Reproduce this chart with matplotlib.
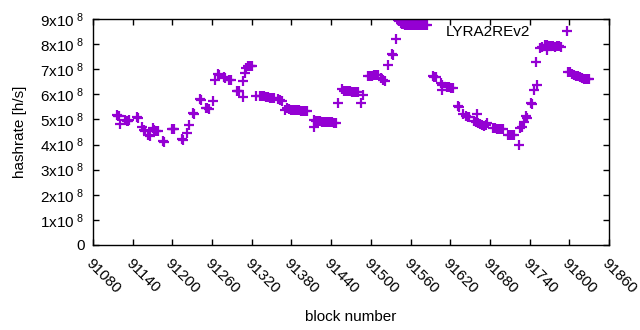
import matplotlib
matplotlib.use("Agg")
import matplotlib.pyplot as plt
from matplotlib.ticker import FixedLocator

plt.rcParams['font.family'] = ['Liberation Sans', 'DejaVu Sans']
plt.rcParams['mathtext.fontset'] = 'custom'
plt.rcParams['mathtext.rm'] = 'Liberation Sans'

series_name = "LYRA2REv2"

blocks = [
    91116, 91118, 91120, 91121,
    91129, 91131, 91133, 91135,
    91146, 91148,
    91154, 91157, 91159,
    91163, 91166,
    91171, 91172, 91175, 91178,
    91186, 91188,
    91199, 91201, 91203,
    91214, 91216,
    91222, 91225,
    91231, 91233,
    91242, 91244,
    91251, 91253, 91256,
    91261,
    91264, 91269, 91271,
    91278, 91280,
    91286, 91288,
    91297, 91299, 91301,
    91307, 91307,
    91310, 91312, 91315, 91317, 91319, 91321,
    91327, 91333, 91336, 91339, 91342, 91345, 91348, 91351, 91354,
    91359, 91362, 91365,
    91370, 91374, 91377, 91380, 91383, 91386, 91389, 91392, 91395, 91398, 91401, 91404,
    91414, 91414, 91417, 91420, 91423, 91426, 91429, 91432, 91435, 91438, 91441, 91444, 91447,
    91450,
    91457, 91460, 91463, 91466, 91469, 91472, 91475, 91478, 91481,
    91485, 91488,
    91496, 91499, 91502, 91505, 91508, 91511,
    91515, 91519, 91521,
    91526,
    91532, 91534,
    91538,
    91541, 91543, 91545, 91547, 91549, 91552, 91555, 91558, 91561, 91564, 91567,
    91570, 91573, 91576, 91579, 91582, 91585,
    91594, 91596, 91599,
    91606, 91608, 91608,
    91615, 91618, 91621, 91624,
    91632, 91634,
    91640, 91644, 91647, 91649,
    91656, 91659, 91660, 91662, 91665, 91668, 91671, 91674, 91676,
    91685, 91688, 91691, 91694, 91697, 91700,
    91708, 91711, 91714, 91717,
    91724,
    91726, 91728, 91731,
    91734, 91736,
    91742, 91744,
    91747, 91749, 91751,
    91756, 91759, 91763, 91766, 91766, 91770, 91773, 91776, 91779, 91782, 91785, 91788,
    91798, 91801, 91804, 91807, 91810, 91813, 91816, 91819, 91822, 91825, 91828, 91830,
]

hashrate_e8 = [
    5.17, 5.15, 5.13, 4.82,
    4.96, 4.95, 4.94, 4.96,
    5.08, 5.06,
    4.70, 4.56, 4.52,
    4.40, 4.36,
    4.66, 4.56, 4.54, 4.52,
    4.16, 4.12,
    4.62, 4.62, 4.62,
    4.21, 4.19,
    4.46, 4.78,
    5.26, 5.22,
    5.80, 5.76,
    5.46, 5.44, 5.42,
    5.74,
    6.57, 6.81, 6.77,
    6.68, 6.66,
    6.58, 6.56,
    6.14, 6.14, 6.13,
    6.53, 5.90,
    6.85, 7.05, 7.11, 7.11, 7.11, 7.11,
    5.92, 5.95, 5.94, 5.93, 5.91, 5.88, 5.87, 5.86, 5.85,
    5.80, 5.77, 5.74,
    5.38, 5.44, 5.40, 5.38, 5.37, 5.37, 5.36, 5.36, 5.35, 5.35, 5.34, 5.33,
    4.70, 4.98, 4.95, 4.93, 4.92, 4.90, 4.91, 4.90, 4.89, 4.88, 4.88, 4.87, 4.87,
    5.66,
    6.22, 6.14, 6.13, 6.12, 6.12, 6.11, 6.11, 6.10, 6.10,
    5.66, 5.98,
    6.72, 6.73, 6.75, 6.77, 6.78, 6.76,
    6.66, 6.58, 6.55,
    7.17,
    7.61, 7.57,
    8.21,
    8.98, 8.92, 8.86, 8.82, 8.79, 8.77, 8.76, 8.76, 8.75, 8.75, 8.75,
    8.75, 8.75, 8.75, 8.75, 8.75, 8.75,
    6.72, 6.71, 6.70,
    6.45, 6.38, 6.18,
    6.30, 6.28, 6.27, 6.27,
    5.52, 5.48,
    5.22, 5.14, 5.11, 5.10,
    4.92, 4.90, 5.22, 4.86, 4.82, 4.76, 4.73, 4.78, 4.85,
    4.66, 4.64, 4.63, 4.62, 4.61, 4.60,
    4.40, 4.39, 4.38, 4.38,
    3.98,
    4.64, 4.70, 4.90,
    5.12, 5.04,
    5.66, 5.62,
    6.18, 7.29, 6.37,
    7.83, 7.88, 7.97, 7.95, 7.77, 7.92, 7.91, 7.91, 7.90, 7.91, 7.91, 7.90,
    6.89, 6.87, 6.82, 6.76, 6.74, 6.72, 6.68, 6.65, 6.63, 6.62, 6.61, 6.60,
]

x_ticks = [91080, 91140, 91200, 91260, 91320, 91380, 91440, 91500,
           91560, 91620, 91680, 91740, 91800, 91860]
y_ticks_e8 = [0, 1, 2, 3, 4, 5, 6, 7, 8, 9]
y_tick_labels = ['0'] + [r'$\mathregular{%dx10^{\ 8}}$' % v for v in y_ticks_e8[1:]]

fig = plt.figure(figsize=(6.4, 3.3), dpi=100)
ax = fig.add_axes([93 / 640, 85 / 330, 516 / 640, 226 / 330])

color = '#9400d3'
ax.plot(blocks, [v * 1e8 for v in hashrate_e8], linestyle='none', marker='+',
        markersize=6.5, markeredgewidth=1.6, color=color, label=series_name)

ax.set_xlim(x_ticks[0], x_ticks[-1])
ax.set_ylim(0, 9e8)
ax.xaxis.set_major_locator(FixedLocator(x_ticks))
ax.set_xticklabels([str(t) for t in x_ticks], rotation=-45, ha='left', va='top',
                   rotation_mode='anchor')
ax.yaxis.set_major_locator(FixedLocator([v * 1e8 for v in y_ticks_e8]))
ax.set_yticklabels(y_tick_labels)

ax.tick_params(direction='in', length=4, width=1, top=True, right=True,
               labelsize=11, colors='black', pad=6)
ax.tick_params(axis='x', pad=8)
for s in ax.spines.values():
    s.set_linewidth(1)
    s.set_color('black')

ax.set_xlabel('block number', fontsize=11, labelpad=10)
ax.set_ylabel('hashrate [h/s]', fontsize=11, labelpad=10)

leg = ax.legend(loc='upper right', frameon=False, markerfirst=False, fontsize=11,
                handlelength=3.0, handletextpad=0.95, borderaxespad=0.0,
                bbox_to_anchor=(0.975, 1.0))

fig.savefig('out.png', dpi=100)
